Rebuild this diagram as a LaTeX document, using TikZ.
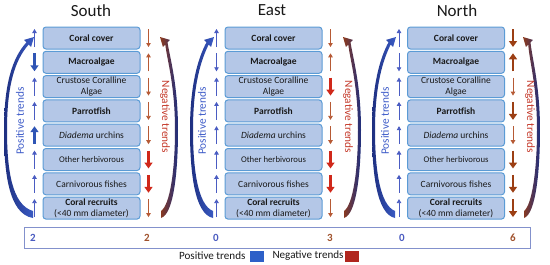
\documentclass[tikz,border=0pt]{standalone}
\usepackage{fontspec}
\setmainfont{Carlito}
\usetikzlibrary{arrows.meta,calc}
\definecolor{boxfill}{HTML}{B4C7E7}
\definecolor{boxline}{HTML}{5B9BD5}
\definecolor{posthin}{HTML}{4A5CC2}
\definecolor{posthick}{HTML}{2F55B5}
\definecolor{negthin}{HTML}{B65A35}
\definecolor{negred}{HTML}{D0281A}
\definecolor{negbrown}{HTML}{9C3F14}
\definecolor{poslab}{HTML}{3D5BC8}
\definecolor{neglab}{HTML}{C4392A}
\definecolor{curvenavy}{HTML}{1E2F80}
\definecolor{curveblue}{HTML}{3A5CC6}
\definecolor{curvebrown}{HTML}{8E3A1C}
\definecolor{barline}{HTML}{8391CC}
\definecolor{numblue}{HTML}{4A5BC0}
\definecolor{numbrown}{HTML}{A0522D}
\definecolor{legblue}{HTML}{2E60C8}
\definecolor{legred}{HTML}{B0261E}
\newcommand\trendcurve[4]{%
  \shade[#4] ({#1-#2*1},218) .. controls ({#1-#2*(#3-4)},214) and ({#1-#2*#3},170) .. ({#1-#2*#3},130)
    .. controls ({#1-#2*#3},85) and ({#1-#2*(#3-8)},58) .. ({#1-#2*7.5},42.3)
    -- ({#1-#2*9.9},39.9) -- (#1,37) -- ({#1-#2*2.9},46.9) -- ({#1-#2*5.3},44.5)
    .. controls ({#1-#2*(#3-11)},60) and ({#1-#2*(#3-3)},85) .. ({#1-#2*(#3-3)},130)
    .. controls ({#1-#2*(#3-3)},170) and ({#1-#2*(#3-8)},205) .. ({#1-#2*1},211) -- cycle;}
\begin{document}
\begin{tikzpicture}[x=1pt,y=-1pt,
  box/.style={draw=boxline, fill=boxfill, line width=1pt, rounded corners=3pt,
    minimum width=97pt, minimum height=22pt, inner sep=0pt, align=center,
    font=\fontsize{9.5}{10.5}\selectfont, text=black!90},
  title/.style={font=\fontsize{17}{20}\selectfont, text=black!90},
  poslabel/.style={rotate=90, text=poslab, font=\fontsize{11.3}{13}\selectfont},
  neglabel/.style={rotate=-90, text=neglab, font=\fontsize{11.3}{13}\selectfont},
  thinP/.style={draw=posthin, line width=0.8pt, -{Triangle[length=4pt,width=4.5pt]}},
  thickP/.style={draw=posthick, line width=2.6pt, -{Triangle[length=6pt,width=8pt]}},
  thinN/.style={draw=negthin, line width=0.8pt, -{Triangle[length=4pt,width=4.5pt]}},
  redN/.style={draw=negred, line width=2.6pt, -{Triangle[length=6pt,width=8pt]}},
  brownN/.style={draw=negbrown, line width=2.6pt, -{Triangle[length=6pt,width=8pt]}},
  poscurve/.style={left color=curvenavy, right color=curveblue},
  negcurve/.style={left color=curvebrown, right color=curvenavy},
  num/.style={font=\bfseries\fontsize{11}{13}\selectfont},
  legend/.style={font=\fontsize{11.1}{13}\selectfont, text=black!90}]
\useasboundingbox (0,0) rectangle (550,265);

% titles
\node[title] (tS) at (91,10.5) {South};
\node[title] (tE) at (272,10.5) {East};
\node[title] (tN) at (457,10.5) {North};

% boxes
\foreach \p/\cx in {s/91.5, e/273.5, n/456}{
  \node[box] (\p1) at (\cx,38) {\textbf{Coral cover}};
  \node[box] (\p2) at (\cx,62.3) {\textbf{Macroalgae}};
  \node[box] (\p3) at (\cx,86.6) {Crustose Coralline\\Algae};
  \node[box] (\p4) at (\cx,110.9) {\textbf{Parrotfish}};
  \node[box] (\p5) at (\cx,135.2) {\textit{Diadema} urchins};
  \node[box,font=\fontsize{8.7}{10}\selectfont] (\p6) at (\cx,159.5) {Other herbivorous};
  \node[box] (\p7) at (\cx,183.8) {Carnivorous fishes};
  \node[box] (\p8) at (\cx,208.1) {\textbf{Coral recruits}\\(<40 mm diameter)};
}

% positive-side arrows (left of boxes)
\foreach \i/\s/\l/\st in {1/9/-18/thinP, 2/-9/18/thickP, 3/9/-18/thinP, 4/9/-18/thinP,
    5/9/-18/thickP, 6/9/-18/thinP, 7/9/-18/thinP, 8/9/-18/thinP}
  \draw[\st] ($(s\i.west)+(-8,\s)$) -- ++(0,\l);
\foreach \i/\s/\l/\st in {1/9/-18/thinP, 2/-9/18/thinP, 3/9/-18/thinP, 4/9/-18/thinP,
    5/9/-18/thinP, 6/9/-18/thinP, 7/9/-18/thinP, 8/9/-18/thinP}{
  \draw[\st] ($(e\i.west)+(-8,\s)$) -- ++(0,\l);
  \draw[\st] ($(n\i.west)+(-8,\s)$) -- ++(0,\l);
}

% negative-side arrows (right of boxes)
\foreach \i/\s/\l/\st in {1/-9/18/thinN, 2/9/-18/thinN, 3/-9/18/thinN, 4/-9/18/thinN,
    5/-9/18/thinN, 6/-9/18/redN, 7/-9/18/redN, 8/-9/18/thinN}
  \draw[\st] ($(s\i.east)+(8,\s)$) -- ++(0,\l);
\foreach \i/\s/\l/\st in {1/-9/18/thinN, 2/9/-18/thinN, 3/-9/18/redN, 4/-9/18/thinN,
    5/-9/18/thinN, 6/-9/18/redN, 7/-9/18/redN, 8/-9/18/thinN}
  \draw[\st] ($(e\i.east)+(8,\s)$) -- ++(0,\l);
\foreach \i/\s/\l/\st in {1/-9/18/brownN, 2/9/-18/brownN, 3/-9/18/thinN, 4/-9/18/brownN,
    5/-9/18/thinN, 6/-9/18/brownN, 7/-9/18/brownN, 8/-9/18/brownN}
  \draw[\st] ($(n\i.east)+(8,\s)$) -- ++(0,\l);

% big curved arrows
\trendcurve{34}{1}{30}{poscurve}
\trendcurve{214}{1}{24}{poscurve}
\trendcurve{396}{1}{24}{poscurve}
\trendcurve{160}{-1}{18}{negcurve}
\trendcurve{343}{-1}{18}{negcurve}
\trendcurve{523}{-1}{17}{negcurve}

% vertical labels
\node[poslabel] (pS) at (20,121) {Positive trends};
\node[poslabel] (pE) at (202,121) {Positive trends};
\node[poslabel] (pN) at (385,121) {Positive trends};
\node[neglabel] (nS) at (165,117) {Negative trends};
\node[neglabel] (nE) at (348,117) {Negative trends};
\node[neglabel] (nN) at (530,117) {Negative trends};

% count bar
\node[draw=barline, line width=0.9pt, minimum width=506pt, minimum height=21pt, inner sep=0pt] (bar) at (277,237.5) {};
\node[num, text=numblue] (cS1) at (33,238) {2};
\node[num, text=numbrown] (cS2) at (147,238) {2};
\node[num, text=numblue] (cE1) at (216,238) {0};
\node[num, text=numbrown] (cE2) at (330,238) {3};
\node[num, text=numblue] (cN1) at (402,238) {0};
\node[num, text=numbrown] (cN2) at (513,238) {6};

% legend
\node[legend, anchor=east] (lp) at (249,256) {Positive trends};
\node[fill=legblue, minimum width=14pt, minimum height=11pt, inner sep=0pt] (lps) at (257,256) {};
\node[legend, anchor=west] (ln) at (269,256) {Negative trends};
\node[fill=legred, minimum width=14pt, minimum height=11pt, inner sep=0pt] (lns) at (352,256) {};
\end{tikzpicture}
\end{document}
